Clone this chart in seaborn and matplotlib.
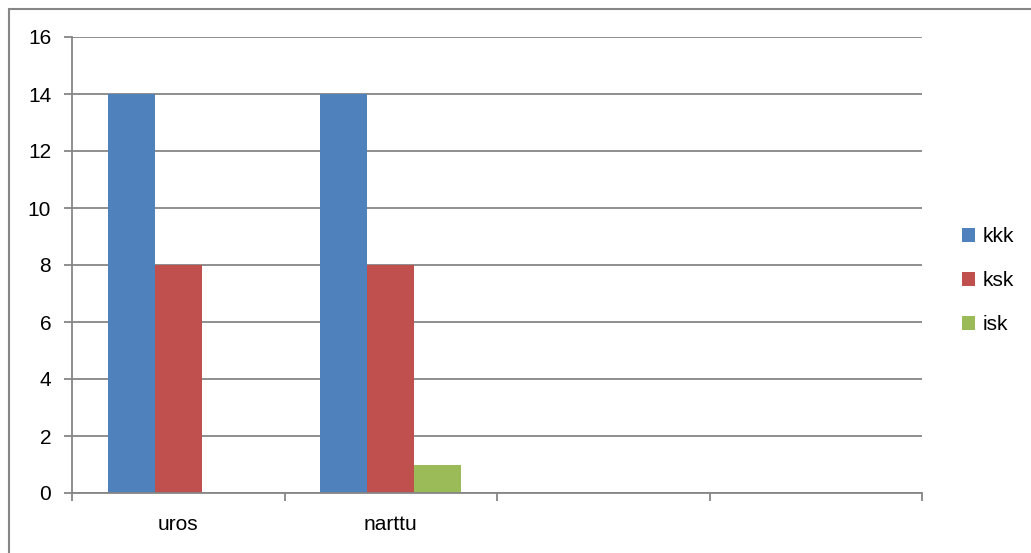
"""
Clustered bar chart: counts of kkk / ksk / isk per sex (uros, narttu)
"""

import matplotlib.pyplot as plt
import pandas as pd
import seaborn as sns
from matplotlib.patches import Rectangle

categories = ['uros', 'narttu']
slots = ['uros', 'narttu', ' ', '  ']
series = ['kkk', 'ksk', 'isk']
kkk = [14, 14]
ksk = [8, 8]
isk = [0, 1]
colors = ['#4f81bd', '#c0504d', '#9bbb59']
grid_color = '#868686'


def main():
    sns.set_style('white')
    plt.rcParams['font.family'] = ['Liberation Sans', 'DejaVu Sans']
    plt.rcParams['text.color'] = 'black'
    plt.rcParams['xtick.color'] = 'black'
    plt.rcParams['ytick.color'] = 'black'

    rows = []
    for name, vals in zip(series, [kkk, ksk, isk]):
        for cat, v in zip(categories, vals):
            rows.append({'cat': cat, 'series': name, 'value': v})
    df = pd.DataFrame(rows)

    fig = plt.figure(figsize=(10.31, 5.53), dpi=100)
    ax = fig.add_axes([72 / 1031, 60 / 553, 850 / 1031, 456 / 553])

    sns.barplot(data=df, x='cat', y='value', hue='series', order=slots,
                hue_order=series, palette=colors, width=0.664,
                saturation=1, linewidth=0, ax=ax, legend=True)

    ax.set_xlim(-0.5, 3.5)
    ax.set_ylim(0, 16)
    ax.set_yticks(range(0, 17, 2))
    ax.yaxis.grid(True, color=grid_color, linewidth=1.3)
    ax.set_axisbelow(True)
    ax.set_xlabel('')
    ax.set_ylabel('')

    # category labels centred, tick marks on the slot borders
    ax.set_xticks(range(len(slots)))
    ax.set_xticklabels(['uros', 'narttu', '', ''])
    ax.set_xticks([-0.5, 0.5, 1.5, 2.5, 3.5], minor=True)
    ax.tick_params(axis='x', which='major', length=0, pad=16, labelsize=15,
                   labelcolor='black')
    ax.tick_params(axis='x', which='minor', bottom=True, length=6, width=1.3,
                   color=grid_color, direction='out')
    ax.tick_params(axis='y', left=True, length=6, width=1.3, color=grid_color,
                   direction='out', pad=9, labelsize=15, labelcolor='black')

    for side in ['top', 'right']:
        ax.spines[side].set_visible(False)
    for side in ['left', 'bottom']:
        ax.spines[side].set_color(grid_color)
        ax.spines[side].set_linewidth(1.3)

    handles, labels = ax.get_legend_handles_labels()
    ax.legend(handles, labels, loc='center left',
              bbox_to_anchor=(943 / 1031, (553 - 281) / 553),
              bbox_transform=fig.transFigure, frameon=False,
              fontsize=15, handlelength=0.65, handleheight=0.65,
              handletextpad=0.35, labelspacing=1.2)

    # outer chart border
    fig.patches.append(Rectangle((9 / 1031, -0.1), 1.2, (553 - 9) / 553 + 0.1,
                                 transform=fig.transFigure, fill=False,
                                 edgecolor=grid_color, linewidth=1.5))

    plt.savefig('out.png', dpi=100)


if __name__ == '__main__':
    main()
